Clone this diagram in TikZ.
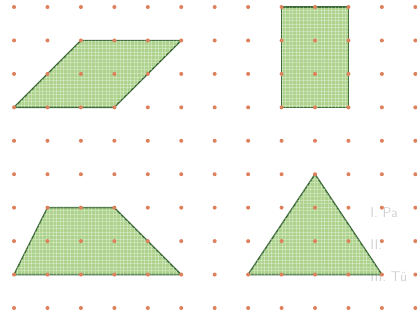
\documentclass[tikz,border=0pt]{standalone}
\usepackage{tikz}
\usetikzlibrary{patterns}
\usepackage{xcolor}
\definecolor{dotred}{RGB}{222,128,92}
\definecolor{shapegreen}{RGB}{172,210,140}
\definecolor{edgegreen}{RGB}{62,108,56}
\definecolor{ghostgray}{RGB}{210,210,210}

\begin{document}
\begin{tikzpicture}[x=1cm,y=-1cm]
    \tikzstyle{figure}=[fill=shapegreen,draw=edgegreen,line width=1.2pt,line join=round]
    \tikzstyle{hatch}=[pattern=grid,pattern color=white,opacity=0.3]
    \tikzstyle{gridpt}=[fill=dotred]
    \tikzstyle{ghost}=[text=ghostgray,anchor=west,inner sep=0pt,font=\fontsize{12}{14}\selectfont\sffamily]

    \useasboundingbox (-0.42,-0.21) rectangle (12.05,9.36);

    % show-through text
    \node[ghost] (G1) at (10.65,6.15) {I. Pa};
    \node[ghost] (G2) at (10.65,7.10) {II.};
    \node[ghost] (G3) at (10.65,8.05) {III. Tü};

    % corners
    \coordinate (PA) at (0,3);
    \coordinate (PB) at (3,3);
    \coordinate (PC) at (5,1);
    \coordinate (PD) at (2,1);
    \coordinate (RA) at (8,3);
    \coordinate (RB) at (10,3);
    \coordinate (RC) at (10,0);
    \coordinate (RD) at (8,0);
    \coordinate (TA) at (0,8);
    \coordinate (TB) at (5,8);
    \coordinate (TC) at (3,6);
    \coordinate (TD) at (1,6);
    \coordinate (UA) at (7,8);
    \coordinate (UB) at (11,8);
    \coordinate (UC) at (9,5);

    % shapes
    \filldraw[figure] (PA) -- (PB) -- (PC) -- (PD) -- cycle;
    \fill[hatch] (PA) -- (PB) -- (PC) -- (PD) -- cycle;
    \filldraw[figure] (RA) -- (RB) -- (RC) -- (RD) -- cycle;
    \fill[hatch] (RA) -- (RB) -- (RC) -- (RD) -- cycle;
    \filldraw[figure] (TA) -- (TB) -- (TC) -- (TD) -- cycle;
    \fill[hatch] (TA) -- (TB) -- (TC) -- (TD) -- cycle;
    \filldraw[figure] (UA) -- (UB) -- (UC) -- cycle;
    \fill[hatch] (UA) -- (UB) -- (UC) -- cycle;

    % dot grid
    \foreach \i in {0,...,12}
        \foreach \j in {0,...,9}
            \fill[gridpt] (\i,\j) circle (0.06);
\end{tikzpicture}
\end{document}
